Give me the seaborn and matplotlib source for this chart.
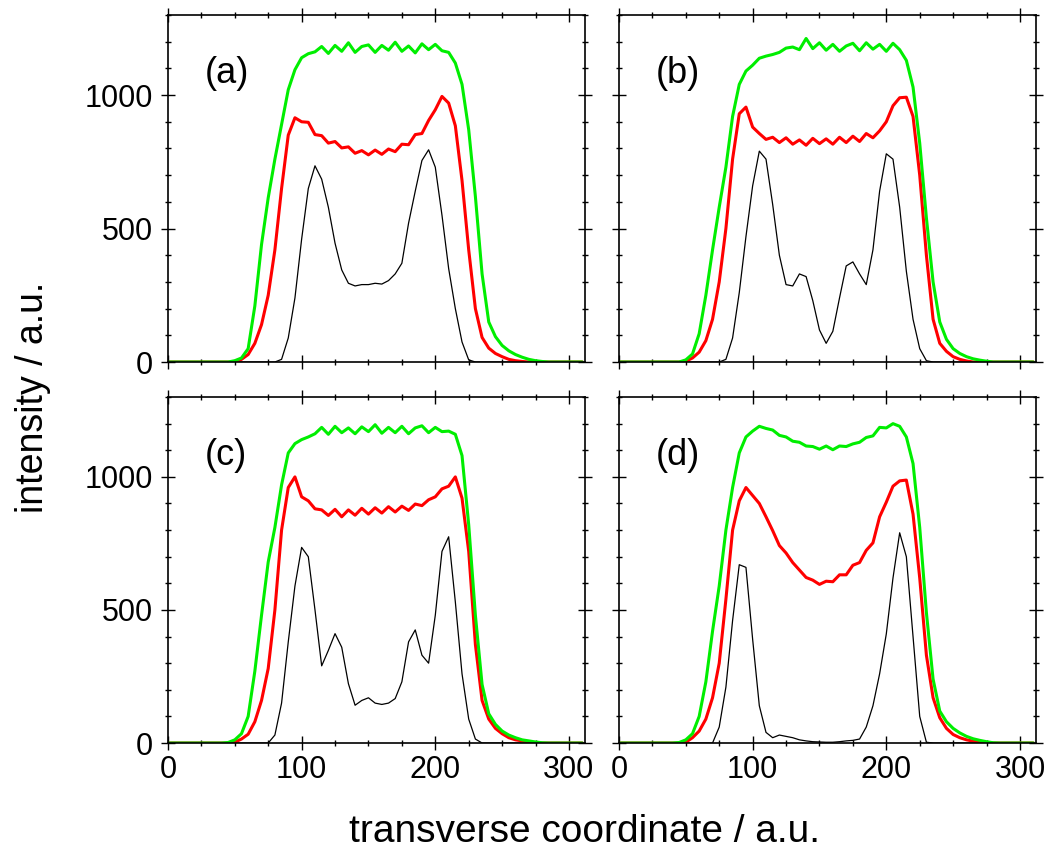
import numpy as np
import pandas as pd
import matplotlib
matplotlib.use("Agg")
import matplotlib.pyplot as plt
from matplotlib.ticker import MultipleLocator
import seaborn as sns

# transverse coordinate grid (a.u.), every 5 units from 0 to 310
X = list(range(0, 315, 5))

# --- panel (a) ---
A_GREEN = [0, 0, 0, 0, 0, 0, 0, 0, 0, 0,
           5, 15, 50, 210, 440, 615, 760, 890, 1020, 1095,
           1140, 1155, 1162, 1182, 1156, 1186, 1164, 1196, 1160, 1182,
           1188, 1160, 1186, 1168, 1198, 1164, 1184, 1158, 1192, 1170,
           1190, 1166, 1160, 1120, 1040, 870, 620, 330, 150, 95,
           62, 42, 28, 18, 10, 5, 2, 0, 0, 0,
           0, 0, 0]
A_RED = [0, 0, 0, 0, 0, 0, 0, 0, 0, 0,
         0, 10, 28, 70, 140, 250, 420, 650, 850, 915,
         900, 898, 852, 848, 820, 826, 802, 806, 782, 792,
         776, 794, 778, 798, 788, 816, 814, 852, 856, 905,
         945, 995, 970, 885, 680, 420, 200, 92, 52, 32,
         20, 10, 5, 2, 0, 0, 0, 0, 0, 0,
         0, 0, 0]
A_BLACK = [0, 0, 0, 0, 0, 0, 0, 0, 0, 0,
           0, 0, 0, 0, 0, 0, 0, 10, 90, 240,
           460, 650, 735, 685, 580, 445, 345, 295, 285, 290,
           290, 295, 292, 305, 330, 370, 520, 640, 755, 795,
           730, 550, 350, 200, 75, 8, 0, 0, 0, 0,
           0, 0, 0, 0, 0, 0, 0, 0, 0, 0,
           0, 0, 0]

# --- panel (b) ---
B_GREEN = [0, 0, 0, 0, 0, 0, 0, 0, 0, 0,
           8, 30, 106, 250, 420, 580, 730, 920, 1040, 1090,
           1112, 1138, 1146, 1152, 1160, 1176, 1180, 1170, 1212, 1174,
           1196, 1168, 1190, 1164, 1184, 1194, 1166, 1196, 1172, 1190,
           1164, 1194, 1170, 1130, 1030, 820, 540, 300, 150, 85,
           50, 32, 20, 12, 7, 3, 0, 0, 0, 0,
           0, 0, 0]
B_RED = [0, 0, 0, 0, 0, 0, 0, 0, 0, 0,
         3, 15, 37, 80, 160, 300, 500, 760, 930, 955,
         880, 856, 834, 842, 822, 840, 816, 832, 812, 838,
         818, 836, 816, 842, 822, 846, 826, 856, 840, 866,
         900, 960, 990, 992, 920, 700, 400, 160, 70, 40,
         20, 10, 4, 0, 0, 0, 0, 0, 0, 0,
         0, 0, 0]
B_BLACK = [0, 0, 0, 0, 0, 0, 0, 0, 0, 0,
           0, 0, 0, 0, 0, 0, 10, 90, 260, 470,
           660, 790, 760, 590, 400, 290, 285, 330, 320, 230,
           120, 70, 115, 240, 360, 375, 330, 290, 420, 640,
           780, 760, 580, 340, 160, 50, 5, 0, 0, 0,
           0, 0, 0, 0, 0, 0, 0, 0, 0, 0,
           0, 0, 0]

# --- panel (c) ---
C_GREEN = [0, 0, 0, 0, 0, 0, 0, 0, 0, 2,
           12, 35, 100, 270, 480, 680, 810, 970, 1090, 1125,
           1140, 1150, 1162, 1186, 1160, 1190, 1166, 1184, 1162, 1188,
           1170, 1196, 1164, 1186, 1166, 1190, 1162, 1184, 1192, 1166,
           1186, 1170, 1172, 1160, 1080, 820, 480, 220, 110, 70,
           45, 30, 20, 12, 8, 4, 1, 0, 0, 0,
           0, 0, 0]
C_RED = [0, 0, 0, 0, 0, 0, 0, 0, 0, 0,
         3, 15, 33, 80, 160, 280, 500, 800, 960, 1000,
         925, 910, 880, 876, 855, 878, 850, 876, 856, 882,
         860, 884, 864, 888, 868, 890, 874, 898, 892, 914,
         925, 955, 965, 1000, 920, 720, 370, 160, 90, 55,
         35, 20, 12, 8, 4, 0, 0, 0, 0, 0,
         0, 0, 0]
C_BLACK = [0, 0, 0, 0, 0, 0, 0, 0, 0, 0,
           0, 0, 0, 0, 0, 0, 30, 150, 380, 590,
           735, 700, 500, 290, 348, 411, 360, 223, 142, 160,
           170, 150, 145, 150, 167, 230, 380, 425, 330, 300,
           480, 720, 775, 530, 260, 90, 15, 0, 0, 0,
           0, 0, 0, 0, 0, 0, 0, 0, 0, 0,
           0, 0, 0]

# --- panel (d) ---
D_GREEN = [0, 0, 0, 0, 0, 0, 0, 0, 0, 2,
           12, 35, 100, 230, 420, 590, 800, 960, 1090, 1150,
           1172, 1190, 1182, 1176, 1156, 1150, 1134, 1130, 1116, 1114,
           1104, 1116, 1102, 1116, 1114, 1124, 1130, 1148, 1154, 1186,
           1184, 1200, 1190, 1150, 1050, 810, 490, 240, 120, 80,
           55, 38, 25, 16, 10, 5, 1, 0, 0, 0,
           0, 0, 0]
D_RED = [0, 0, 0, 0, 0, 0, 0, 0, 0, 0,
         3, 20, 45, 90, 170, 300, 540, 800, 910, 960,
         930, 900, 850, 798, 742, 714, 678, 650, 622, 612,
         596, 608, 606, 632, 632, 668, 678, 724, 752, 850,
         905, 965, 985, 988, 860, 620, 330, 170, 95, 55,
         32, 20, 12, 7, 3, 0, 0, 0, 0, 0,
         0, 0, 0]
D_BLACK = [0, 0, 0, 0, 0, 0, 0, 0, 0, 0,
           0, 0, 0, 0, 0, 60, 210, 460, 670, 660,
           390, 140, 40, 20, 30, 25, 20, 12, 8, 5,
           4, 3, 3, 5, 8, 10, 15, 60, 140, 260,
           410, 620, 790, 700, 400, 100, 3, 0, 0, 0,
           0, 0, 0, 0, 0, 0, 0, 0, 0, 0,
           0, 0, 0]

PANELS = ["(a)", "(b)", "(c)", "(d)"]
SERIES = [
    (A_BLACK, A_RED, A_GREEN),
    (B_BLACK, B_RED, B_GREEN),
    (C_BLACK, C_RED, C_GREEN),
    (D_BLACK, D_RED, D_GREEN),
]

sns.set_style("ticks")
plt.rcParams["font.family"] = ["Liberation Sans", "DejaVu Sans"]
plt.rcParams["text.color"] = "black"
plt.rcParams["xtick.color"] = "black"
plt.rcParams["ytick.color"] = "black"
plt.rcParams["axes.edgecolor"] = "black"

fig = plt.figure(figsize=(10.55, 8.52), dpi=100)

# axes boxes (fig fraction): left, bottom, width, height
boxes = [
    [0.1592, 0.5751, 0.3953, 0.4073],
    [0.5867, 0.5751, 0.3953, 0.4073],
    [0.1592, 0.1279, 0.3953, 0.4061],
    [0.5867, 0.1279, 0.3953, 0.4061],
]

styles = [("black", 0.9), ("#ff0000", 2.2), ("#00ee00", 2.2)]

for k, (box, label, curves) in enumerate(zip(boxes, PANELS, SERIES)):
    ax = fig.add_axes(box)
    for vals, (col, lw) in zip(curves, styles):
        df = pd.DataFrame({"x": X, "intensity": vals})
        sns.lineplot(data=df, x="x", y="intensity", ax=ax, color=col,
                     linewidth=lw, legend=False, estimator=None)
    ax.set_xlim(0, 312)
    ax.set_ylim(0, 1300)
    ax.xaxis.set_major_locator(MultipleLocator(100))
    ax.xaxis.set_minor_locator(MultipleLocator(25))
    ax.yaxis.set_major_locator(MultipleLocator(500))
    ax.yaxis.set_minor_locator(MultipleLocator(100))
    ax.tick_params(which="both", direction="inout", top=True, right=True,
                   labeltop=False, labelright=False, color="black",
                   labelcolor="black", width=1.0)
    ax.tick_params(which="major", length=9.5, labelsize=22)
    ax.tick_params(axis="x", which="major", pad=4)
    ax.tick_params(axis="y", which="major", pad=6)
    ax.tick_params(which="minor", length=5)
    if k % 2 == 1:
        ax.tick_params(labelleft=False)
    if k < 2:
        ax.tick_params(labelbottom=False)
    ax.set_xlabel("")
    ax.set_ylabel("")
    for sp in ax.spines.values():
        sp.set_color("black")
        sp.set_linewidth(1.2)
    ax.text(0.088, 0.83, label, transform=ax.transAxes, fontsize=26,
            ha="left", va="center", color="black")

fig.text(0.031, 0.534, "intensity / a.u.", rotation=90, fontsize=27,
         ha="center", va="center", color="black")
fig.text(0.5545, 0.0235, "transverse coordinate / a.u.", fontsize=28,
         ha="center", va="center", color="black")

fig.savefig("out.png", dpi=100)
